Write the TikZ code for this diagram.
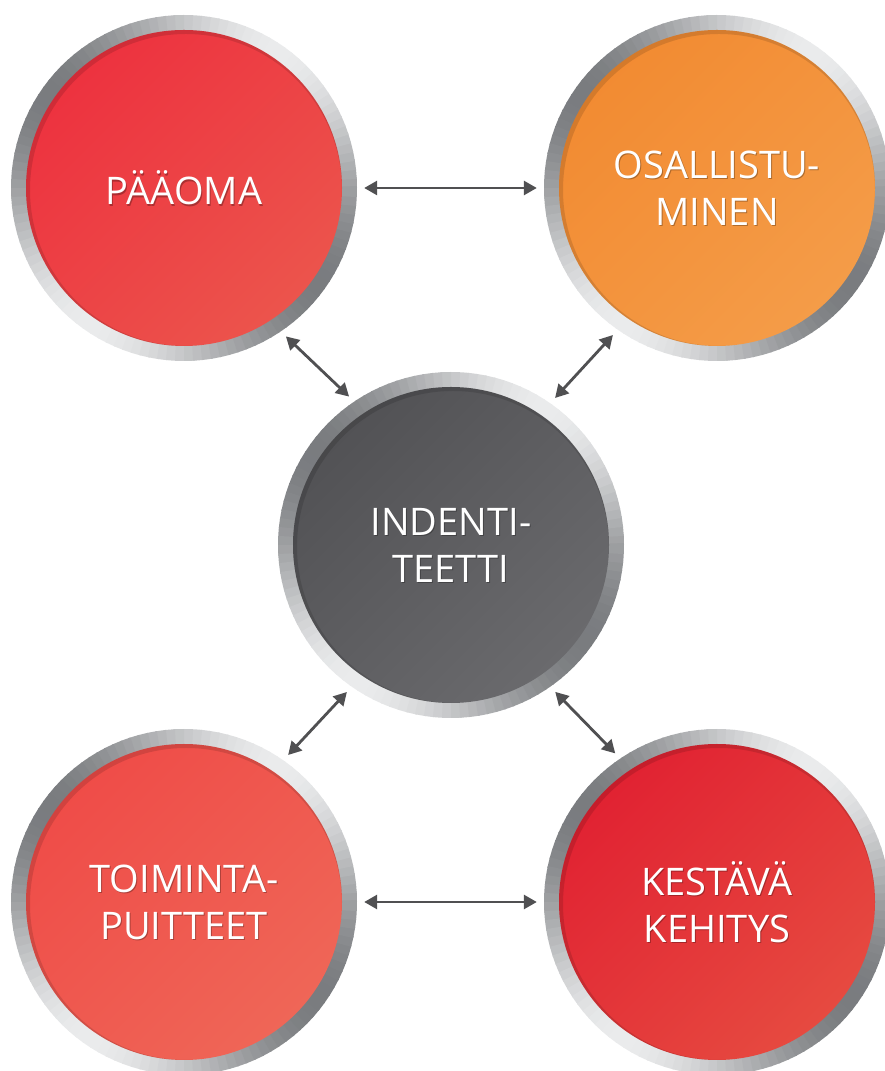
\documentclass[tikz,border=0pt]{standalone}
\usepackage{fontspec}
\setmainfont{Open Sans}
\usetikzlibrary{arrows.meta}
\definecolor{paaomaA}{RGB}{237,50,63}
\definecolor{paaomaB}{RGB}{236,84,76}
\definecolor{osallA}{RGB}{242,139,50}
\definecolor{osallB}{RGB}{244,156,72}
\definecolor{identA}{RGB}{82,82,85}
\definecolor{identB}{RGB}{106,106,109}
\definecolor{toimA}{RGB}{239,76,72}
\definecolor{toimB}{RGB}{239,102,87}
\definecolor{kestA}{RGB}{225,34,50}
\definecolor{kestB}{RGB}{230,74,64}
\definecolor{ringlight}{RGB}{234,235,236}
\definecolor{ringdark}{RGB}{122,124,127}
\definecolor{arrowgray}{RGB}{80,80,82}
\begin{document}
\begin{tikzpicture}
[x=1pt,y=1pt,
 hub/.style={circle,minimum size=346pt,inner sep=0pt},
 hubtext/.style={text=white,font=\fontsize{38}{47}\selectfont,align=center},
 link/.style={<->,>={Triangle[length=13pt,width=14pt]},line width=2.8pt,
   draw=arrowgray,shorten <=7pt,shorten >=7pt}]
\useasboundingbox (0,0) rectangle (885,1071);
% the five hubs
\foreach \n/\xx/\yy/\ca/\cb/\t in {
  paaoma/184/883/paaomaA/paaomaB/{PÄÄOMA},
  osall/717/883/osallA/osallB/{OSALLISTU-\\MINEN},
  ident/451/526/identA/identB/{INDENTI-\\TEETTI},
  toim/184/169/toimA/toimB/{TOIMINTA-\\PUITTEET},
  kest/717/169/kestA/kestB/{KESTÄVÄ\\KEHITYS}}{
  \node[hub] (\n) at (\xx,\yy) {};
  % metal ring
  \foreach \a in {0,3,...,357}{
    \pgfmathsetmacro\lev{50+50*cos(2*(\a+1.5-55))}
    \fill[ringlight!\lev!ringdark] (\n.center) -- ++(\a:173)
      arc[start angle=\a,end angle=\a+3.6,radius=173] -- cycle;
  }
  \begin{scope}
    \clip (\n.center) circle[radius=158];
    \shade[top color=\ca,bottom color=\cb,shading angle=45]
      (\n.center) circle[radius=158];
    \draw[black,opacity=.12,line width=8pt] ([shift={(2,-2)}]\n.center) circle[radius=160];
  \end{scope}
  \node[hubtext,text=black,opacity=.28] at ([shift={(1,-1.5)}]\n.center) {\t};
  \node[hubtext] (\n-label) at (\n.center) {\t};
}
% connectors
\draw[link] (paaoma.east) -- (osall.west);
\draw[link] (toim.east) -- (kest.west);
\draw[link] (paaoma.-56) -- (ident.124);
\draw[link] (osall.235) -- (ident.55);
\draw[link] (toim.55) -- (ident.235);
\draw[link] (kest.124) -- (ident.-55);
\end{tikzpicture}
\end{document}
